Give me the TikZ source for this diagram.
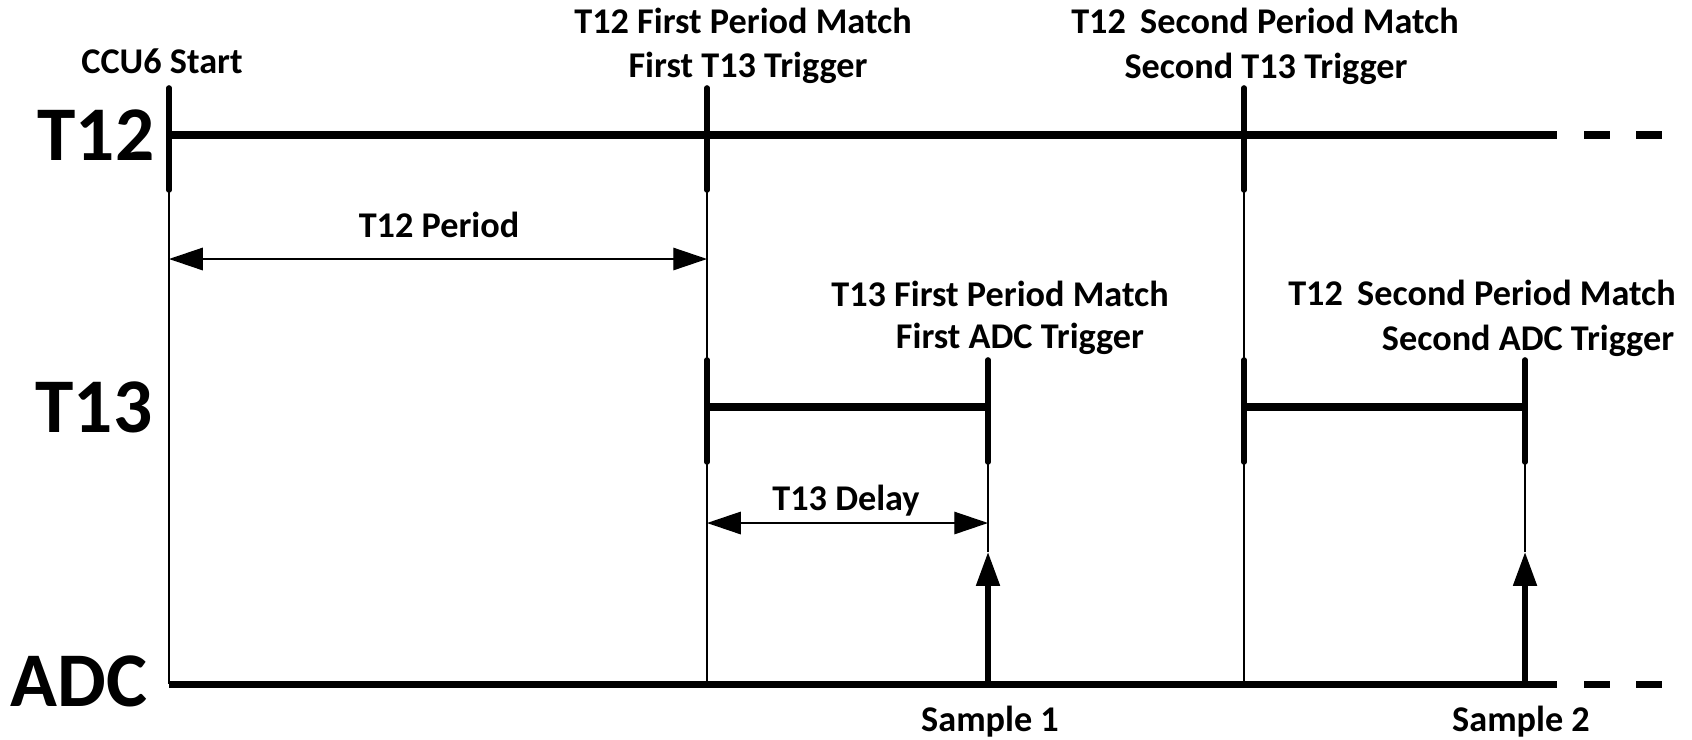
\documentclass[tikz,border=0pt]{standalone}
\usepackage{fontspec}
\setmainfont{Carlito}
\usetikzlibrary{arrows.meta}

\begin{document}
\begin{tikzpicture}[
          x=0.01cm, y=-0.01cm,
          every node/.style={inner sep=0pt},
          axis/.style={line width=2pt},
          tail/.style={line width=2pt, dash pattern=on 7.4pt off 7.4pt},
          tick/.style={line width=1.6pt, line cap=round},
          guide/.style={line width=0.4pt},
          span/.style={line width=0.4pt, {Triangle[length=9.6pt,width=6.4pt]}-{Triangle[length=9.6pt,width=6.4pt]}},
          sample/.style={line width=1.5pt, -{Triangle[length=9.6pt,width=6.5pt]}},
          signal/.style={anchor=east, font=\fontsize{22}{26}\selectfont\bfseries},
          note/.style={anchor=base, font=\fontsize{10.3}{12}\selectfont\bfseries}
        ]
        \useasboundingbox (0,0) rectangle (1692,739);

        % time marks on the three rows
        \foreach \n/\x in {start/169, first/707, second/1244} {
          \coordinate (\n-top) at (\x,88);
          \coordinate (\n-mid) at (\x,135);
          \coordinate (\n-bot) at (\x,190);
          \coordinate (\n-adc) at (\x,684);
        }
        \foreach \n/\x in {ta/707, tb/988, tc/1244, td/1525} {
          \coordinate (\n-top) at (\x,360);
          \coordinate (\n-mid) at (\x,407);
          \coordinate (\n-bot) at (\x,462);
          \coordinate (\n-tip) at (\x,552);
          \coordinate (\n-adc) at (\x,684);
        }
        \coordinate (end12) at (1557,135);
        \coordinate (dash12a) at (1584,135);
        \coordinate (dash12b) at (1662,135);
        \coordinate (endadc) at (1557,684);
        \coordinate (dashadca) at (1584,684);
        \coordinate (dashadcb) at (1662,684);
        \coordinate (per-a) at (169,259);
        \coordinate (per-b) at (707,259);
        \coordinate (del-a) at (707,523);
        \coordinate (del-b) at (988,523);

        % guides
        \draw[guide] (start-bot) -- (start-adc);
        \draw[guide] (first-bot) -- (first-adc);
        \draw[guide] (second-bot) -- (second-adc);
        \draw[guide] (tb-bot) -- (tb-tip);
        \draw[guide] (td-bot) -- (td-tip);

        % rows
        \draw[axis] (start-mid) -- (end12);
        \draw[tail] (dash12a) -- (dash12b);
        \draw[axis] (start-adc) -- (endadc);
        \draw[tail] (dashadca) -- (dashadcb);
        \draw[axis] (ta-mid) -- (tb-mid);
        \draw[axis] (tc-mid) -- (td-mid);

        \draw[tick] (start-top) -- (start-bot);
        \draw[tick] (first-top) -- (first-bot);
        \draw[tick] (second-top) -- (second-bot);
        \draw[tick] (ta-top) -- (ta-bot);
        \draw[tick] (tb-top) -- (tb-bot);
        \draw[tick] (tc-top) -- (tc-bot);
        \draw[tick] (td-top) -- (td-bot);

        \draw[span] (per-a) -- (per-b);
        \draw[span] (del-a) -- (del-b);
        \draw[sample] (tb-adc) -- (tb-tip);
        \draw[sample] (td-adc) -- (td-tip);

        % labels
        \node[signal] (lt12) at (155,135) {T12};
        \node[signal] (lt13) at (153,407) {T13};
        \node[signal] (ladc) at (148,681) {ADC};

        \node[note] (ccu) at (162,73) {CCU6 Start};
        \node[note] (m12a) at (743,33) {T12 First Period Match};
        \node[note] (m12b) at (748,77) {First T13 Trigger};
        \node[note] (m12c) at (1265,33) {T12\,\ Second Period Match};
        \node[note] (m12d) at (1266,78) {Second T13 Trigger};
        \node[note] (m13a) at (1000,306) {T13 First Period Match};
        \node[note] (m13b) at (1020,348) {First ADC Trigger};
        \node[note] (m13c) at (1482,305) {T12\,\ Second Period Match};
        \node[note] (m13d) at (1528,350) {Second ADC Trigger};
        \node[note] (lper) at (439,237) {T12 Period};
        \node[note] (ldel) at (846,510) {T13 Delay};
        \node[note] (s1) at (990,731) {Sample 1};
        \node[note] (s2) at (1521,731) {Sample 2};
        \end{tikzpicture}
\end{document}
